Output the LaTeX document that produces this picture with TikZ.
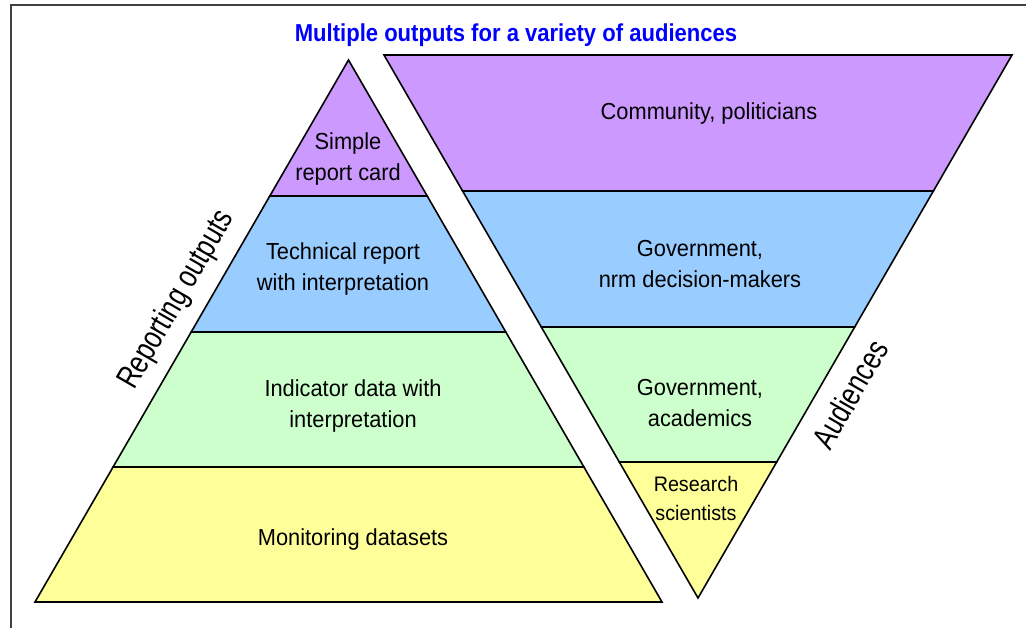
\documentclass[tikz,border=0pt]{standalone}
\usepackage{fontspec}
\setmainfont{Liberation Sans}[FakeStretch=0.94]
\newfontfamily\narrowfont{Liberation Sans}[FakeStretch=0.78]
\newfontfamily\titlefont{Liberation Sans}[FakeStretch=0.9]
\definecolor{tierpurple}{HTML}{CC99FF}
\definecolor{tierblue}{HTML}{99CCFF}
\definecolor{tiergreen}{HTML}{CCFFCC}
\definecolor{tieryellow}{HTML}{FFFF99}
\definecolor{titleblue}{HTML}{0000FF}
\begin{document}
\begin{tikzpicture}[x=1pt,y=-1pt,
  tier/.style={draw=black,line width=1.6pt,line join=miter},
  tiertext/.style={align=center,inner sep=0pt,font=\fontsize{23.2}{31.5}\selectfont},
  smalltext/.style={align=center,inner sep=0pt,font=\fontsize{21}{29}\selectfont},
  sidetext/.style={inner sep=0pt,rotate=60,font=\narrowfont\fontsize{32.5}{34}\selectfont},
  frameline/.style={draw=black!75,line width=1.2pt}]
\useasboundingbox (0,0) rectangle (1026,628);
% outer frame (top and left edges)
\draw[frameline] (1026,5) -- (11,5) -- (11,628);
% title
\node[inner sep=0pt,anchor=base,text=titleblue,font=\titlefont\bfseries\fontsize{24.5}{28}\selectfont]
  (title) at (516,41.5) {Multiple outputs for a variety of audiences};
% pyramid of reporting outputs
\coordinate (pA) at (348.5,60);
\draw[tier,fill=tieryellow] (113.1,467) -- (583.9,467) -- (662,602) -- (35,602) -- cycle;
\draw[tier,fill=tiergreen] (191.2,332) -- (505.8,332) -- (583.9,467) -- (113.1,467) -- cycle;
\draw[tier,fill=tierblue] (269.8,196) -- (427.2,196) -- (505.8,332) -- (191.2,332) -- cycle;
\draw[tier,fill=tierpurple] (pA) -- (427.2,196) -- (269.8,196) -- cycle;
% inverted pyramid of audiences
\coordinate (aV) at (698,598);
\draw[tier,fill=tierpurple] (384,55) -- (1012,55) -- (933.4,191) -- (462.6,191) -- cycle;
\draw[tier,fill=tierblue] (462.6,191) -- (933.4,191) -- (854.7,327) -- (541.3,327) -- cycle;
\draw[tier,fill=tiergreen] (541.3,327) -- (854.7,327) -- (776.7,462) -- (619.3,462) -- cycle;
\draw[tier,fill=tieryellow] (619.3,462) -- (776.7,462) -- (aV) -- cycle;
% tier labels
\node[tiertext] (simple) at (348,159) {Simple\\report card};
\node[tiertext] (technical) at (343,269) {Technical report\\with interpretation};
\node[tiertext] (indicator) at (353,406) {Indicator data with\\interpretation};
\node[tiertext] (monitoring) at (353,540) {Monitoring datasets};
\node[tiertext] (community) at (709,114) {Community, politicians};
\node[tiertext] (govnrm) at (700,264) {Government,\\nrm decision-makers};
\node[tiertext] (govacad) at (700,403) {Government,\\academics};
\node[smalltext] (research) at (696,498) {Research\\scientists};
% side captions
\node[sidetext] (reporting) at (177,300) {Reporting outputs};
\node[sidetext] (audiences) at (850,394) {Audiences};
\end{tikzpicture}
\end{document}
